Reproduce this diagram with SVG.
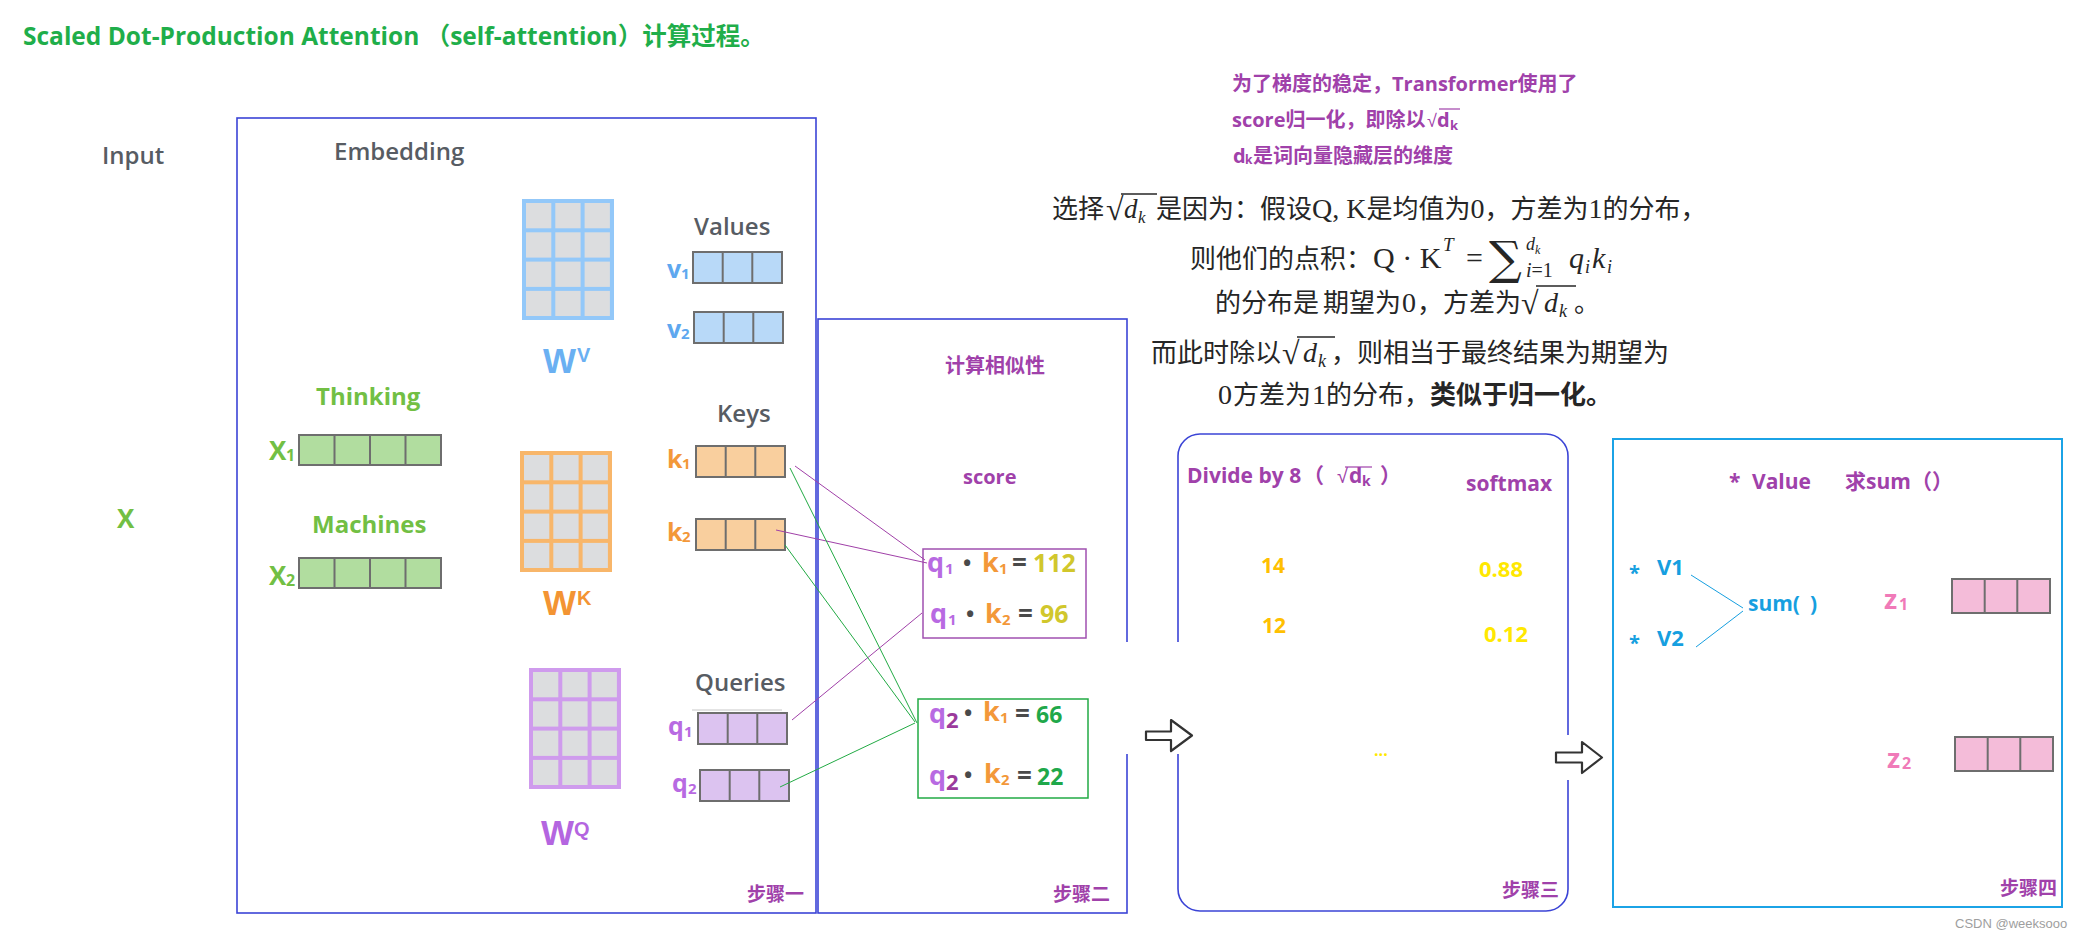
<svg xmlns="http://www.w3.org/2000/svg" xmlns:xlink="http://www.w3.org/1999/xlink" width="2083" height="936" viewBox="0 0 2083 936">
<style>
.os{font-family:"Open Sans","Noto Sans CJK SC",sans-serif}
.cjk{font-family:"Noto Sans CJK SC","Open Sans",sans-serif}
.ser{font-family:"Liberation Serif","DejaVu Serif",serif}
.ar{font-family:"Liberation Sans",Arial,sans-serif}
.b{font-weight:bold}
.it{font-style:italic}
.gray{fill:#575c63;font-size:24px;font-weight:600}
.grn{fill:#72bf44}
.pur{fill:#a041aa}
.frame{fill:none;stroke:#3b44d6;stroke-width:1.6}
.math{fill:#262626;font-size:26px}
.cyan{fill:#169fe0}
.pink{fill:#f07ab8}
.dot{fill:#4a4a4a}
</style>
<defs>
<g id="mat">
<rect x="0" y="0" width="92" height="121" fill="currentColor"/>
<g fill="#dcdddf">
<rect x="4" y="4" width="25.3" height="25.3"/><rect x="33.3" y="4" width="25.3" height="25.3"/><rect x="62.6" y="4" width="25.3" height="25.3"/>
<rect x="4" y="33.3" width="25.3" height="25.3"/><rect x="33.3" y="33.3" width="25.3" height="25.3"/><rect x="62.6" y="33.3" width="25.3" height="25.3"/>
<rect x="4" y="62.6" width="25.3" height="25.3"/><rect x="33.3" y="62.6" width="25.3" height="25.3"/><rect x="62.6" y="62.6" width="25.3" height="25.3"/>
<rect x="4" y="91.9" width="25.3" height="25.1"/><rect x="33.3" y="91.9" width="25.3" height="25.1"/><rect x="62.6" y="91.9" width="25.3" height="25.1"/>
</g>
</g>
<g id="vec3">
<rect x="0" y="0" width="89" height="31" fill="currentColor" stroke="#6e6e6e" stroke-width="2"/>
<path d="M29.7,0V31M59.3,0V31" stroke="#6e6e6e" stroke-width="2"/>
</g>
<g id="vec4">
<rect x="0" y="0" width="142" height="30" fill="currentColor" stroke="#6e6e6e" stroke-width="2"/>
<path d="M35.5,0V30M71,0V30M106.5,0V30" stroke="#6e6e6e" stroke-width="2"/>
</g>
<g id="vecz">
<rect x="0" y="0" width="98" height="34" fill="currentColor" stroke="#6e6e6e" stroke-width="2"/>
<path d="M32.7,0V34M65.3,0V34" stroke="#6e6e6e" stroke-width="2"/>
</g>
</defs>
<rect width="2083" height="936" fill="#ffffff"/>

<g id="title">
<text x="23" y="45" class="os b" font-size="24.5" fill="#1fae4a">Scaled Dot-Production Attention （self-attention）计算过程。</text>
</g>

<g id="input">
<text x="102" y="164" class="os gray">Input</text>
<text x="117" y="528" class="os b grn" font-size="26">X</text>
</g>

<g id="step1">
<rect x="237" y="118" width="579" height="795" class="frame"/>
<text x="334" y="160" class="os gray">Embedding</text>
<text x="747" y="901" class="cjk b pur" font-size="19">步骤一</text>
</g>

<g id="thinking">
<text x="316" y="405" class="os b grn" font-size="24">Thinking</text>
<text x="269" y="460" class="os b grn" font-size="26">X</text><text x="286" y="461" class="os b grn" font-size="16">1</text>
<use xlink:href="#vec4" x="299" y="435" style="color:#b1dd9f"/>
</g>
<g id="machines">
<text x="312" y="533" class="os b grn" font-size="24">Machines</text>
<text x="269" y="585" class="os b grn" font-size="26">X</text><text x="286" y="586" class="os b grn" font-size="16">2</text>
<use xlink:href="#vec4" x="299" y="558" style="color:#b1dd9f"/>
</g>

<g id="wv">
<use xlink:href="#mat" x="522" y="199" style="color:#93c8f9"/>
<text x="543" y="373" class="ar b" font-size="35" fill="#6ab0f2">W</text><text x="577" y="362" class="ar b" font-size="20" fill="#6ab0f2">V</text>
</g>
<g id="wk">
<use xlink:href="#mat" x="520" y="451" style="color:#f8b66a"/>
<text x="543" y="615" class="ar b" font-size="35" fill="#f39433">W</text><text x="577" y="605" class="ar b" font-size="20" fill="#f39433">K</text>
</g>
<g id="wq">
<use xlink:href="#mat" x="529" y="668" style="color:#cf9bed"/>
<text x="541" y="845" class="ar b" font-size="35" fill="#b465e0">W</text><text x="574" y="836" class="ar b" font-size="20" fill="#b465e0">Q</text>
</g>

<g id="values">
<text x="694" y="235" class="os gray">Values</text>
<text x="667" y="278" class="os b" font-size="25" fill="#5ea8ef">v</text><text x="681" y="279" class="os b" font-size="15" fill="#5ea8ef">1</text>
<use xlink:href="#vec3" x="693" y="252" style="color:#b8d9f8"/>
<text x="667" y="338" class="os b" font-size="25" fill="#5ea8ef">v</text><text x="681" y="339" class="os b" font-size="15" fill="#5ea8ef">2</text>
<use xlink:href="#vec3" x="694" y="312" style="color:#b8d9f8"/>
</g>
<g id="keys">
<text x="717" y="422" class="os gray">Keys</text>
<text x="667" y="468" class="os b" font-size="25" fill="#f39839">k</text><text x="682" y="469" class="os b" font-size="15" fill="#f39839">1</text>
<use xlink:href="#vec3" x="696" y="446" style="color:#f9cf9e"/>
<text x="667" y="541" class="os b" font-size="25" fill="#f39839">k</text><text x="682" y="542" class="os b" font-size="15" fill="#f39839">2</text>
<use xlink:href="#vec3" x="696" y="519" style="color:#f9cf9e"/>
</g>
<g id="queries">
<text x="695" y="691" class="os gray">Queries</text>
<line x1="692" y1="710" x2="782" y2="710" stroke="#c8c8c8" stroke-width="1"/>
<text x="668" y="735" class="os b" font-size="25" fill="#b86ae2">q</text><text x="684" y="737" class="os b" font-size="15" fill="#b86ae2">1</text>
<use xlink:href="#vec3" x="698" y="713" style="color:#dcc3f0"/>
<text x="672" y="792" class="os b" font-size="25" fill="#b86ae2">q</text><text x="688" y="794" class="os b" font-size="15" fill="#b86ae2">2</text>
<use xlink:href="#vec3" x="700" y="770" style="color:#dcc3f0"/>
</g>

<g id="step2">
<rect x="818" y="319" width="309" height="594" class="frame"/>
<text x="945" y="373" class="cjk b pur" font-size="20">计算相似性</text>
<text x="963" y="484" class="os b pur" font-size="20">score</text>
<text x="1053" y="901" class="cjk b pur" font-size="19">步骤二</text>
</g>

<g id="score-q1">
<rect x="923" y="549" width="163" height="89" fill="none" stroke="#a050b0" stroke-width="1.5"/>
<g class="os b">
<text x="927" y="572" font-size="27" fill="#b86ae2">q</text><text x="945" y="574" font-size="15" fill="#b86ae2">1</text>
<text x="963" y="571" font-size="22" class="dot">•</text>
<text x="982" y="572" font-size="27" fill="#f39839">k</text><text x="999" y="574" font-size="15" fill="#f39839">1</text>
<text x="1012" y="572" font-size="26" class="dot">=</text>
<text x="1033" y="572" font-size="25" fill="#d1c72c">112</text>
<text x="930" y="623" font-size="27" fill="#b86ae2">q</text><text x="948" y="625" font-size="15" fill="#b86ae2">1</text>
<text x="966" y="622" font-size="22" class="dot">•</text>
<text x="985" y="623" font-size="27" fill="#f39839">k</text><text x="1002" y="625" font-size="15" fill="#f39839">2</text>
<text x="1018" y="623" font-size="26" class="dot">=</text>
<text x="1040" y="623" font-size="25" fill="#d1c72c">96</text>
</g>
</g>
<g id="score-q2">
<rect x="918" y="699" width="170" height="99" fill="none" stroke="#22aa44" stroke-width="1.5"/>
<g class="os b">
<text x="929" y="723" font-size="27" fill="#b86ae2">q</text><text x="946" y="728" font-size="22" fill="#9b3a9c">2</text>
<text x="964" y="721" font-size="22" class="dot">•</text>
<text x="983" y="721" font-size="27" fill="#f39839">k</text><text x="1000" y="723" font-size="15" fill="#f39839">1</text>
<text x="1015" y="723" font-size="26" class="dot">=</text>
<text x="1036" y="723" font-size="23" fill="#1fa84a">66</text>
<text x="929" y="785" font-size="27" fill="#b86ae2">q</text><text x="946" y="790" font-size="22" fill="#9b3a9c">2</text>
<text x="964" y="783" font-size="22" class="dot">•</text>
<text x="984" y="783" font-size="27" fill="#f39839">k</text><text x="1001" y="785" font-size="15" fill="#f39839">2</text>
<text x="1017" y="785" font-size="26" class="dot">=</text>
<text x="1037" y="785" font-size="23" fill="#1fa84a">22</text>
</g>
</g>

<g id="notes">
<text x="1232" y="91" class="cjk b pur" font-size="20"><tspan class="os">为了梯度的稳定，</tspan><tspan class="os">Transformer</tspan>使用了</text>
<text x="1232" y="127" class="os b pur" font-size="20">score<tspan class="cjk">归一化，即除以</tspan></text>
<text x="1427" y="127" class="ar pur" font-size="18">√</text>
<text x="1437" y="127" class="os b pur" font-size="20">d</text><text x="1450" y="130" class="os b pur" font-size="13">k</text>
<line x1="1439" y1="109" x2="1460" y2="109" stroke="#a041aa" stroke-width="1.2"/>
<text x="1233" y="163" class="os b pur" font-size="20">d</text><text x="1245" y="164" class="os b pur" font-size="12">k</text>
<text x="1253" y="163" class="cjk b pur" font-size="20">是词向量隐藏层的维度</text>
</g>

<g id="explain">
<text x="1052" y="218" class="cjk math">选择</text>
<text x="1106" y="220" class="ser" font-size="32" fill="#262626">√</text>
<line x1="1121" y1="194" x2="1157" y2="194" stroke="#262626" stroke-width="1.3"/>
<text x="1124" y="218" class="ser it" font-size="27" fill="#262626">d</text><text x="1138" y="223" class="ser it" font-size="17" fill="#262626">k</text>
<text x="1156" y="218" class="cjk math">是因为：假设<tspan class="ser" font-size="28">Q, K</tspan>是均值为<tspan class="ser" font-size="28">0</tspan>，方差为<tspan class="ser" font-size="28">1</tspan>的分布，</text>

<text x="1190" y="268" class="cjk math">则他们的点积：</text>
<text x="1373" y="268" class="ser" font-size="30" fill="#262626">Q · K</text>
<text x="1443" y="251" class="ser it" font-size="19" fill="#262626">T</text>
<text x="1466" y="268" class="ser" font-size="30" fill="#262626">=</text>
<text x="1489" y="274" font-family="DejaVu Serif, serif" font-size="46" fill="#262626">∑</text>
<text x="1526" y="250" class="ser it" font-size="18" fill="#262626">d</text><text x="1535" y="254" class="ser it" font-size="12" fill="#262626">k</text>
<text x="1526" y="277" class="ser" font-size="20" fill="#262626"><tspan class="it">i</tspan>=1</text>
<text x="1569" y="268" class="ser it" font-size="30" fill="#262626">q</text><text x="1585" y="273" class="ser it" font-size="18" fill="#262626">i</text>
<text x="1592" y="268" class="ser it" font-size="30" fill="#262626">k</text><text x="1607" y="273" class="ser it" font-size="18" fill="#262626">i</text>

<text x="1215" y="312" class="cjk math">的分布是</text>
<text x="1323" y="312" class="cjk math">期望为</text>
<text x="1402" y="312" class="ser" font-size="28" fill="#262626">0</text>
<text x="1417" y="312" class="cjk math">，</text>
<text x="1443" y="312" class="cjk math">方差为</text>
<text x="1521" y="314" class="ser" font-size="32" fill="#262626">√</text>
<line x1="1536" y1="286" x2="1576" y2="286" stroke="#262626" stroke-width="1.3"/>
<text x="1544" y="312" class="ser it" font-size="28" fill="#262626">d</text><text x="1559" y="317" class="ser it" font-size="18" fill="#262626">k</text>
<text x="1574" y="312" class="cjk math">。</text>

<text x="1151" y="362" class="cjk math">而此时除以</text>
<text x="1282" y="364" class="ser" font-size="32" fill="#262626">√</text>
<line x1="1297" y1="337" x2="1335" y2="337" stroke="#262626" stroke-width="1.3"/>
<text x="1303" y="362" class="ser it" font-size="28" fill="#262626">d</text><text x="1318" y="367" class="ser it" font-size="18" fill="#262626">k</text>
<text x="1331" y="362" class="cjk math">，</text>
<text x="1357" y="362" class="cjk math">则相当于最终结果为期望为</text>

<text x="1218" y="404" class="ser" font-size="28" fill="#262626">0</text>
<text x="1233" y="404" class="cjk math">方差为</text>
<text x="1312" y="404" class="ser" font-size="28" fill="#262626">1</text>
<text x="1326" y="404" class="cjk math">的分布，</text>
<text x="1430" y="404" class="cjk math b">类似于归一化。</text>
</g>

<g id="step3">
<rect x="1178" y="434" width="390" height="477" rx="22" ry="22" class="frame"/>
<text x="1187" y="483" class="os b pur" font-size="21">Divide by 8</text>
<text x="1303" y="483" class="cjk b pur" font-size="21">（</text>
<text x="1337" y="483" class="ar pur" font-size="20">√</text>
<line x1="1345" y1="467" x2="1372" y2="467" stroke="#a041aa" stroke-width="1.2"/>
<text x="1349" y="483" class="os b pur" font-size="21">d</text><text x="1362" y="486" class="os b pur" font-size="14">k</text>
<text x="1380" y="483" class="cjk b pur" font-size="21">）</text>
<text x="1466" y="491" class="os b pur" font-size="21">softmax</text>
<text x="1261" y="573" class="os b" font-size="21" fill="#ffc000">14</text>
<text x="1262" y="633" class="os b" font-size="21" fill="#ffc000">12</text>
<text x="1479" y="577" class="os b" font-size="22" fill="#ffe800">0.88</text>
<text x="1484" y="642" class="os b" font-size="22" fill="#ffe800">0.12</text>
<text x="1374" y="756" class="os b" font-size="16" fill="#ffe800">...</text>
<text x="1502" y="897" class="cjk b pur" font-size="19">步骤三</text>
</g>

<g id="step4">
<rect x="1613" y="439" width="449" height="468" fill="none" stroke="#1ba3e6" stroke-width="2"/>
<text x="1729" y="489" class="os b pur" font-size="21">*</text>
<text x="1752" y="489" class="os b pur" font-size="21">Value</text>
<text x="1845" y="489" class="cjk b pur" font-size="21">求<tspan class="os">sum</tspan></text>
<text x="1911" y="489" class="cjk b pur" font-size="21">（）</text>
<text x="1629" y="580" class="os b cyan" font-size="20">*</text>
<text x="1657" y="575" class="os b cyan" font-size="22">V1</text>
<text x="1629" y="650" class="os b cyan" font-size="20">*</text>
<text x="1657" y="646" class="os b cyan" font-size="22">V2</text>
<text x="1748" y="611" class="os b cyan" font-size="21">sum(</text>
<text x="1810" y="611" class="os b cyan" font-size="21">)</text>
<text x="1884" y="609" class="os b pink" font-size="27">z</text><text x="1899" y="610" class="os b pink" font-size="16">1</text>
<use xlink:href="#vecz" x="1952" y="579" style="color:#f4bcd9"/>
<text x="1887" y="768" class="os b pink" font-size="27">z</text><text x="1902" y="769" class="os b pink" font-size="16">2</text>
<use xlink:href="#vecz" x="1955" y="737" style="color:#f4bcd9"/>
<text x="2000" y="895" class="cjk b pur" font-size="19">步骤四</text>
</g>

<g id="connectors" fill="none" stroke-width="1">
<g stroke="#a040a8">
<line x1="795" y1="466" x2="925" y2="560"/>
<line x1="776" y1="530" x2="927" y2="563"/>
<line x1="792" y1="720" x2="922" y2="613"/>
</g>
<g stroke="#22aa44">
<line x1="790" y1="468" x2="917" y2="723"/>
<line x1="785" y1="545" x2="915" y2="722"/>
<line x1="780" y1="787" x2="915" y2="723"/>
</g>
<g stroke="#169fe0">
<line x1="1691" y1="575" x2="1743" y2="608"/>
<line x1="1696" y1="647" x2="1743" y2="611"/>
</g>
<rect x="1121" y="642" width="62" height="112" fill="#ffffff" stroke="none"/>
<rect x="1550" y="735" width="58" height="45" fill="#ffffff" stroke="none"/>
<path d="M1146,731.5H1171V720L1192,735.5L1171,751V740H1146Z" fill="#ffffff" stroke="#333333" stroke-width="2.2" stroke-linejoin="round"/>
<path d="M1556,752.5H1582V742L1602,757.5L1582,773V762.5H1556Z" fill="#ffffff" stroke="#333333" stroke-width="2.2" stroke-linejoin="round"/>
</g>

<g id="watermark">
<text x="1955" y="928" class="ar" font-size="13" fill="#9e9e9e">CSDN @weeksooo</text>
</g>
</svg>
